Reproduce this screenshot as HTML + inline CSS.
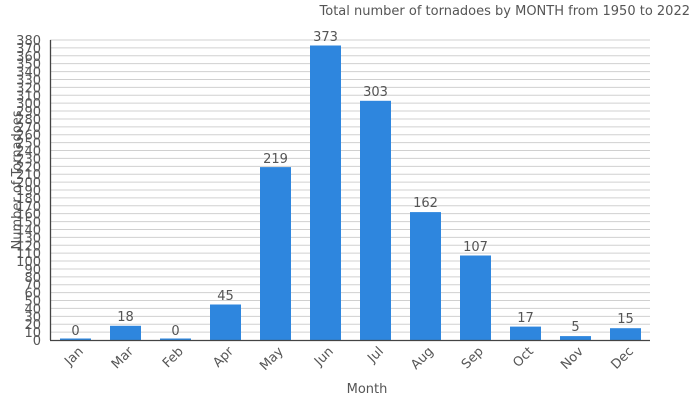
<!DOCTYPE html>
<html><head><meta charset="utf-8"><style>
body{margin:0;background:#fff}
svg{display:block;font-family:"DejaVu Sans","Liberation Sans",sans-serif}
</style></head><body>
<svg width="700" height="400" viewBox="0 0 700 400">
<g stroke="#d0d0d0" stroke-width="1">
<line x1="50" x2="650" y1="332.11" y2="332.11"/><line x1="50" x2="650" y1="324.21" y2="324.21"/><line x1="50" x2="650" y1="316.32" y2="316.32"/><line x1="50" x2="650" y1="308.42" y2="308.42"/><line x1="50" x2="650" y1="300.53" y2="300.53"/><line x1="50" x2="650" y1="292.63" y2="292.63"/><line x1="50" x2="650" y1="284.74" y2="284.74"/><line x1="50" x2="650" y1="276.84" y2="276.84"/><line x1="50" x2="650" y1="268.95" y2="268.95"/><line x1="50" x2="650" y1="261.05" y2="261.05"/><line x1="50" x2="650" y1="253.16" y2="253.16"/><line x1="50" x2="650" y1="245.26" y2="245.26"/><line x1="50" x2="650" y1="237.37" y2="237.37"/><line x1="50" x2="650" y1="229.47" y2="229.47"/><line x1="50" x2="650" y1="221.58" y2="221.58"/><line x1="50" x2="650" y1="213.68" y2="213.68"/><line x1="50" x2="650" y1="205.79" y2="205.79"/><line x1="50" x2="650" y1="197.89" y2="197.89"/><line x1="50" x2="650" y1="190" y2="190"/><line x1="50" x2="650" y1="182.11" y2="182.11"/><line x1="50" x2="650" y1="174.21" y2="174.21"/><line x1="50" x2="650" y1="166.32" y2="166.32"/><line x1="50" x2="650" y1="158.42" y2="158.42"/><line x1="50" x2="650" y1="150.53" y2="150.53"/><line x1="50" x2="650" y1="142.63" y2="142.63"/><line x1="50" x2="650" y1="134.74" y2="134.74"/><line x1="50" x2="650" y1="126.84" y2="126.84"/><line x1="50" x2="650" y1="118.95" y2="118.95"/><line x1="50" x2="650" y1="111.05" y2="111.05"/><line x1="50" x2="650" y1="103.16" y2="103.16"/><line x1="50" x2="650" y1="95.26" y2="95.26"/><line x1="50" x2="650" y1="87.37" y2="87.37"/><line x1="50" x2="650" y1="79.47" y2="79.47"/><line x1="50" x2="650" y1="71.58" y2="71.58"/><line x1="50" x2="650" y1="63.68" y2="63.68"/><line x1="50" x2="650" y1="55.79" y2="55.79"/><line x1="50" x2="650" y1="47.89" y2="47.89"/><line x1="50" x2="650" y1="40" y2="40"/>
</g>
<g fill="#2e86de">
<rect x="60" y="338.5" width="31" height="1.5"/>
<rect x="110" y="325.8" width="31" height="14.2"/>
<rect x="160" y="338.5" width="31" height="1.5"/>
<rect x="210" y="304.5" width="31" height="35.5"/>
<rect x="260" y="167.1" width="31" height="172.9"/>
<rect x="310" y="45.5" width="31" height="294.5"/>
<rect x="360" y="100.8" width="31" height="239.2"/>
<rect x="410" y="212.1" width="31" height="127.9"/>
<rect x="460" y="255.5" width="31" height="84.5"/>
<rect x="510" y="326.6" width="31" height="13.4"/>
<rect x="560" y="336.1" width="31" height="3.9"/>
<rect x="610" y="328.2" width="31" height="11.8"/>
</g>
<g stroke="#444" stroke-width="1.3"><line x1="50.5" y1="40" x2="50.5" y2="340"/><line x1="50" y1="340.5" x2="650" y2="340.5"/></g>
<g fill="#555" font-size="13" text-anchor="middle">
<text x="75.5" y="335">0</text><text x="125.5" y="321">18</text><text x="175.5" y="335">0</text><text x="225.5" y="300">45</text><text x="275.5" y="163">219</text><text x="325.5" y="41">373</text><text x="375.5" y="96">303</text><text x="425.5" y="207">162</text><text x="475.5" y="251">107</text><text x="525.5" y="322">17</text><text x="575.5" y="331">5</text><text x="625.5" y="323">15</text>
</g>
<g fill="#555" font-size="13" text-anchor="end">
<text x="41" y="345">0</text><text x="41" y="337.1">10</text><text x="41" y="329.2">20</text><text x="41" y="321.3">30</text><text x="41" y="313.4">40</text><text x="41" y="305.5">50</text><text x="41" y="297.6">60</text><text x="41" y="289.7">70</text><text x="41" y="281.8">80</text><text x="41" y="273.9">90</text><text x="41" y="266">100</text><text x="41" y="258.2">110</text><text x="41" y="250.3">120</text><text x="41" y="242.4">130</text><text x="41" y="234.5">140</text><text x="41" y="226.6">150</text><text x="41" y="218.7">160</text><text x="41" y="210.8">170</text><text x="41" y="202.9">180</text><text x="41" y="195">190</text><text x="41" y="187.1">200</text><text x="41" y="179.2">210</text><text x="41" y="171.3">220</text><text x="41" y="163.4">230</text><text x="41" y="155.5">240</text><text x="41" y="147.6">250</text><text x="41" y="139.7">260</text><text x="41" y="131.8">270</text><text x="41" y="124">280</text><text x="41" y="116">290</text><text x="41" y="108.2">300</text><text x="41" y="100.3">310</text><text x="41" y="92.4">320</text><text x="41" y="84.5">330</text><text x="41" y="76.6">340</text><text x="41" y="68.7">350</text><text x="41" y="60.8">360</text><text x="41" y="52.9">370</text><text x="41" y="45">380</text>
</g>
<g fill="#555" font-size="13" text-anchor="end">
<text transform="translate(84,352) rotate(-45)">Jan</text>
<text transform="translate(134,352) rotate(-45)">Mar</text>
<text transform="translate(184,352) rotate(-45)">Feb</text>
<text transform="translate(234,352) rotate(-45)">Apr</text>
<text transform="translate(284,352) rotate(-45)">May</text>
<text transform="translate(334,352) rotate(-45)">Jun</text>
<text transform="translate(384,352) rotate(-45)">Jul</text>
<text transform="translate(434,352) rotate(-45)">Aug</text>
<text transform="translate(484,352) rotate(-45)">Sep</text>
<text transform="translate(534,352) rotate(-45)">Oct</text>
<text transform="translate(584,352) rotate(-45)">Nov</text>
<text transform="translate(634,352) rotate(-45)">Dec</text>
</g>
<text x="367" y="393" fill="#555" font-size="13" text-anchor="middle">Month</text>
<text transform="translate(21,180) rotate(-90)" fill="#555" font-size="13" text-anchor="middle">Number of Tornadoes</text>
<text x="690" y="15" fill="#555" font-size="13" text-anchor="end">Total number of tornadoes by MONTH from 1950 to 2022</text>
</svg>
</body></html>
